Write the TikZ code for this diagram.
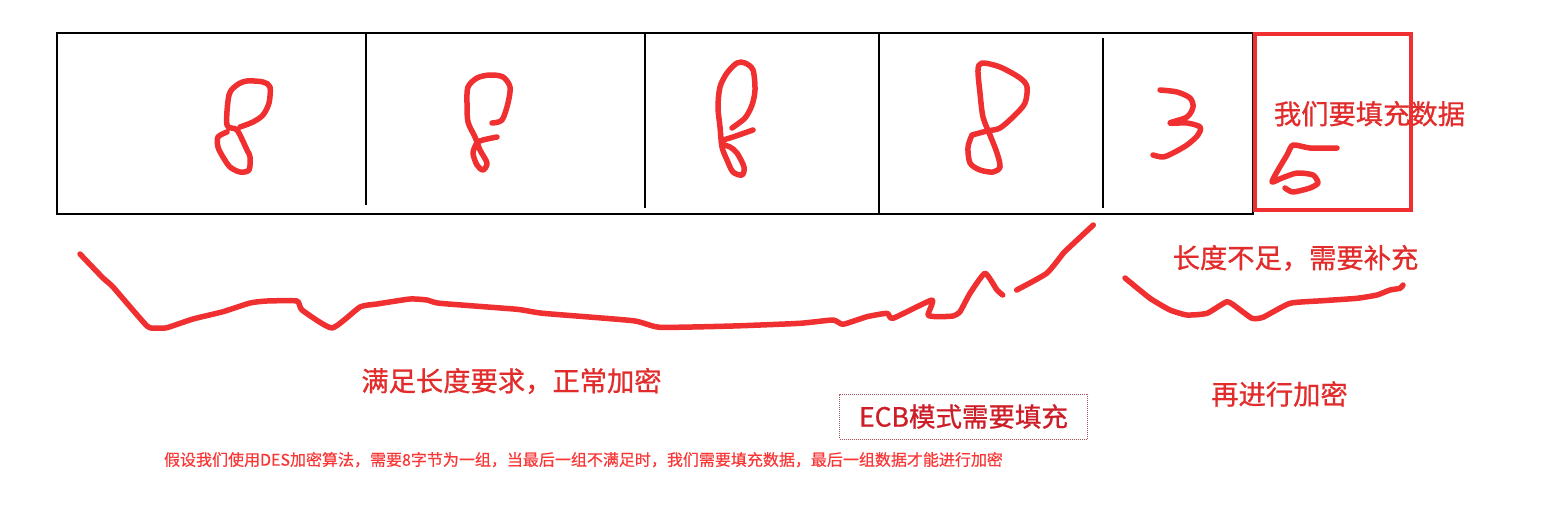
\documentclass[tikz,border=0pt]{standalone}
\usepackage{fontspec}
\newfontfamily\cjk{Noto Sans CJK SC}[FakeBold=0.8]
\newfontfamily\cjknote{Noto Sans CJK SC}[FakeBold=0.4]
\definecolor{penred}{RGB}{240,48,48}
\definecolor{lblred}{RGB}{226,44,44}
\definecolor{ecbred}{RGB}{205,30,40}
\definecolor{notered}{RGB}{250,55,55}
\definecolor{dotbox}{RGB}{170,80,90}
\begin{document}
\begin{tikzpicture}[x=1pt,y=-1pt,
  pen/.style={draw=penred,line width=5.5pt,line cap=round,line join=round},
  cell/.style={draw=black,line width=1.2pt},
  lbl/.style={text=lblred,font=\cjk\fontsize{27.3}{32}\selectfont,inner sep=0pt}]
\useasboundingbox (0,0) rectangle (1551,506);
\fill[white] (0,0) rectangle (1551,506);
% block row
\draw[cell] (57,33) rectangle (1253,214);
\draw[cell] (366,33) -- (366,205);
\draw[cell] (645,33) -- (645,208);
\draw[cell] (879,33) -- (879,214);
\draw[cell] (1103,38) -- (1103,208);
\draw[draw=penred,line width=4pt] (1255,34) rectangle (1411,210);
% handwritten digits
\draw[pen] plot[smooth,tension=0.5] coordinates {(240,127)(253,122)(263,115)(269,103)(270,87)(263,82)(247,81)(237,85)(229,95)(227,125)(237,130)(247,150)(250,157)(249,170)(240,172)(230,167)(223,157)(218,147)(218,137)(227,132)};
\draw[pen] plot[smooth,tension=0.5] coordinates {(492,123)(502,120)(508,103)(510,87)(503,77)(490,75)(477,78)(468,87)(467,103)(468,122)(475,137)(480,150)(487,163)(483,170)(477,165)(473,153)(477,143)(483,140)(497,137)};
\draw[pen] plot[smooth,tension=0.5] coordinates {(732,128)(745,118)(752,105)(755,90)(753,70)(745,63)(737,63)(727,73)(720,87)(718,107)(720,127)(722,147)(727,160)(733,172)(742,175)(744,167)(737,153)(730,147)(722,144)(724,140)(733,137)(753,130)};
\draw[pen] plot[smooth,tension=0.5] coordinates {(972,135)(987,131)(1000,128)(1015,115)(1025,103)(1027,87)(1020,78)(1000,67)(982,63)(978,70)(980,93)(983,117)(990,135)(997,153)(1000,167)(993,172)(980,170)(970,163)(968,147)(972,135)};
\draw[pen] plot[smooth,tension=0.5] coordinates {(1160,90)(1177,92)(1190,98)(1193,107)(1187,117)(1170,123)(1187,123)(1200,127)(1198,135)(1187,145)(1173,153)(1163,157)(1153,155)};
\draw[pen] plot[smooth,tension=0.4] coordinates {(1337,148)(1310,148)(1293,145)(1287,155)(1278,170)(1272,182)(1282,178)(1297,173)(1313,175)(1318,183)(1310,188)(1293,192)(1285,188)};
% braces
\draw[pen] plot[smooth,tension=0.3] coordinates {(80,254)(103,278)(113,287)(147,326)(157,328)(167,327.7)(193,319)(223,311.7)(250,303)(267,301)(297,301)(302,310)(332,328)(360,307)(377,304)(410,299)(427,300)(440,303.3)(517,309.3)(543,313.3)(633,320.7)(660,327.3)(733,326)(800,323.3)(833,320)(843,324.3)(867,316.7)(887,313.3)(893,318.3)(932,300)(928,315)(937,316.7)(953,316)(960,311.7)(970,293.3)(985,273.3)(997,290)(1002.7,295)};
\draw[pen] plot[smooth,tension=0.3] coordinates {(1016.7,290)(1046.7,273.3)(1063.3,253.3)(1070,246.7)(1093.3,225)};
\draw[pen] plot[smooth,tension=0.3] coordinates {(1125,278)(1150,298.3)(1170,310)(1187,315)(1207,313.3)(1227,301.7)(1238,308.3)(1252,318.3)(1263,317.3)(1290,303.3)(1323,300.7)(1357,298.3)(1377,295)(1390,290)(1400,288.3)(1403,285)};
% labels
\node[lbl] (fill) at (1369.5,113.7) {我们要填充数据};
\node[lbl] (short) at (1295.5,258) {长度不足，需要补充};
\node[lbl] (normal) at (511.5,381) {满足长度要求，正常加密};
\node[lbl] (again) at (1279.5,394) {再进行加密};
\node[draw=dotbox,densely dotted,line width=1pt,minimum width=248pt,minimum height=45pt,inner sep=0pt,
  text=ecbred,font=\cjk\fontsize{26.5}{30}\selectfont] (ecb) at (963.5,416.5) {ECB模式需要填充};
\node[text=notered,font=\cjknote\fontsize{16}{19}\selectfont,inner sep=0pt] (note) at (583.5,459.7)
  {假设我们使用DES加密算法，需要8字节为一组，当最后一组不满足时，我们需要填充数据，最后一组数据才能进行加密};
\end{tikzpicture}
\end{document}
